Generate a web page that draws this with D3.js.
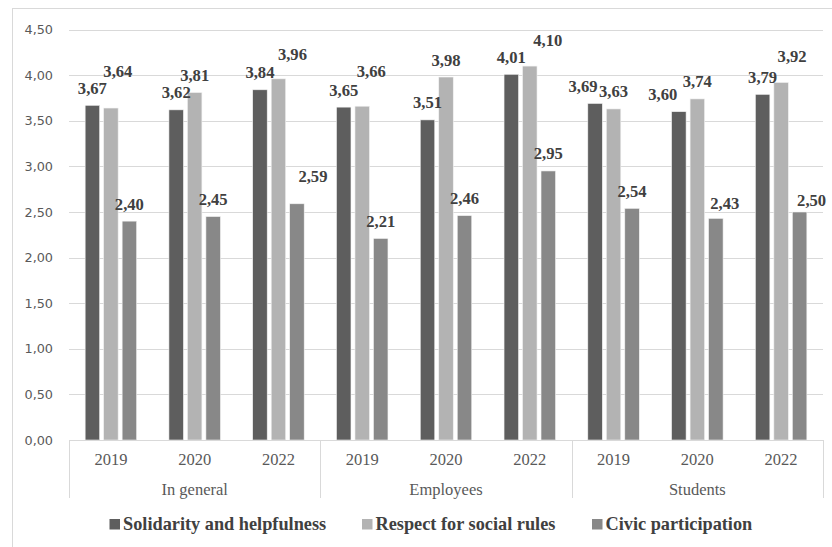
<!DOCTYPE html>
<html>
<head>
<meta charset="utf-8">
<script src="https://cdn.jsdelivr.net/npm/d3@7"></script>
<style>
  html, body { margin: 0; padding: 0; background: #fff; }
  svg { display: block; }
</style>
</head>
<body>
<svg id="chart" width="832" height="547"></svg>
<script>
// Groups and years along the x axis
const groups = ["In general", "Employees", "Students"];
const years = ["2019", "2020", "2022"];

// Series names
const seriesNames = ["Solidarity and helpfulness", "Respect for social rules", "Civic participation"];

// Values per group/year (In general, Employees, Students × 2019, 2020, 2022)
const solidarity = [3.67, 3.62, 3.84, 3.65, 3.51, 4.01, 3.69, 3.60, 3.79];
const respect    = [3.64, 3.81, 3.96, 3.66, 3.98, 4.10, 3.63, 3.74, 3.92];
const civic      = [2.40, 2.45, 2.59, 2.21, 2.46, 2.95, 2.54, 2.43, 2.50];

// Y axis ticks
const yTicks = [0, 0.5, 1, 1.5, 2, 2.5, 3, 3.5, 4, 4.5];

// ---- layout ----
const colors = ["#5e5e5e", "#b3b3b3", "#888888"];
const margin = { left: 69, right: 823, top: 29.6, bottom: 440 };
const serif = "Liberation Serif, Times New Roman, serif";

// Hand-placed label nudges [dx, dy] per series and category
const labelNudge = [
  [[0,0],[0,0],[0,0],[0,0],[0,0],[0,0],[-12,0],[-16,0],[0,0]],
  [[7,-20],[0,0],[14,-7],[9,-18],[0,0],[18,-9],[0,0],[0,0],[11,-9]],
  [[0,0],[0,0],[16,-10],[0,0],[0,0],[0,0],[0,0],[9,2],[12,5]]
];

const seriesValues = [solidarity, respect, civic];
const categories = [];
groups.forEach(g => years.forEach(y => categories.push(g + "|" + y)));

const svg = d3.select("#chart");

// outer chart frame (right and bottom edges run past the canvas)
svg.append("rect")
  .attr("x", 12.5).attr("y", 8.5)
  .attr("width", 840).attr("height", 560)
  .attr("fill", "#fff").attr("stroke", "#d9d9d9").attr("stroke-width", 1);

const x = d3.scaleBand().domain(categories).range([margin.left, margin.right]).paddingInner(0).paddingOuter(0);
const xInner = d3.scaleBand().domain(d3.range(3)).range([0, x.bandwidth()])
  .paddingInner(0.216).paddingOuter(0.873);
const y = d3.scaleLinear().domain([0, 4.5]).range([margin.bottom, margin.top]);

const fmt = v => d3.format(".2f")(v).replace(".", ",");

// gridlines
svg.append("g").selectAll("line").data(yTicks.filter(t => t > 0)).join("line")
  .attr("x1", margin.left).attr("x2", margin.right)
  .attr("y1", d => Math.round(y(d)) + 0.5).attr("y2", d => Math.round(y(d)) + 0.5)
  .attr("stroke", "#d9d9d9").attr("stroke-width", 1);

// y axis labels
const yAxis = d3.axisLeft(y).tickValues(yTicks).tickFormat(fmt).tickSize(0).tickPadding(0);
const yg = svg.append("g").attr("transform", `translate(${53},0)`).call(yAxis);
yg.select(".domain").remove();
yg.selectAll("text")
  .attr("font-family", "DejaVu Sans, Verdana, sans-serif")
  .attr("font-size", 12.8)
  .attr("fill", "#595959");

// bars
seriesValues.forEach((vals, si) => {
  svg.append("g").selectAll("rect").data(vals).join("rect")
    .attr("x", (d, i) => x(categories[i]) + xInner(si))
    .attr("y", d => y(d))
    .attr("width", xInner.bandwidth())
    .attr("height", d => y(0) - y(d))
    .attr("fill", colors[si])
    .attr("stroke", "#f2f2f2")
    .attr("stroke-width", 0.6);
});

// value labels
seriesValues.forEach((vals, si) => {
  svg.append("g").selectAll("text").data(vals).join("text")
    .attr("x", (d, i) => x(categories[i]) + xInner(si) + xInner.bandwidth() / 2 + labelNudge[si][i][0])
    .attr("y", (d, i) => y(d) - 11.5 + labelNudge[si][i][1])
    .attr("text-anchor", "middle")
    .attr("font-family", serif)
    .attr("font-weight", "bold")
    .attr("font-size", 16.6)
    .attr("fill", "#404040")
    .text(d => fmt(d));
});

// x axis baseline
svg.append("line")
  .attr("x1", margin.left).attr("x2", margin.right)
  .attr("y1", margin.bottom + 0.5).attr("y2", margin.bottom + 0.5)
  .attr("stroke", "#d9d9d9").attr("stroke-width", 1);

// group separators
const sepX = groups.map((g, gi) => x(categories[gi * 3])).concat([margin.right]);
svg.append("g").selectAll("line").data(sepX).join("line")
  .attr("x1", d => Math.round(d) + 0.5).attr("x2", d => Math.round(d) + 0.5)
  .attr("y1", margin.bottom).attr("y2", 498)
  .attr("stroke", "#d9d9d9").attr("stroke-width", 1);

// year labels
svg.append("g").selectAll("text").data(categories).join("text")
  .attr("x", d => x(d) + x.bandwidth() / 2)
  .attr("y", 464.5)
  .attr("text-anchor", "middle")
  .attr("font-family", serif)
  .attr("font-size", 16.5)
  .attr("fill", "#595959")
  .text(d => d.split("|")[1]);

// group labels
svg.append("g").selectAll("text").data(groups).join("text")
  .attr("x", (d, gi) => (sepX[gi] + sepX[gi + 1]) / 2)
  .attr("y", 494.5)
  .attr("text-anchor", "middle")
  .attr("font-family", serif)
  .attr("font-size", 16.5)
  .attr("fill", "#595959")
  .text(d => d);

// legend
const legendX = [109.5, 362, 592];
const leg = svg.append("g").selectAll("g").data(seriesNames).join("g")
  .attr("transform", (d, i) => `translate(${legendX[i]},519)`);
leg.append("rect").attr("width", 10.5).attr("height", 10.5).attr("fill", (d, i) => colors[i]);
leg.append("text")
  .attr("x", 13.5).attr("y", 10.8)
  .attr("font-family", serif)
  .attr("font-weight", "bold")
  .attr("font-size", 18.3)
  .attr("fill", "#404040")
  .text(d => d);
</script>
</body>
</html>
